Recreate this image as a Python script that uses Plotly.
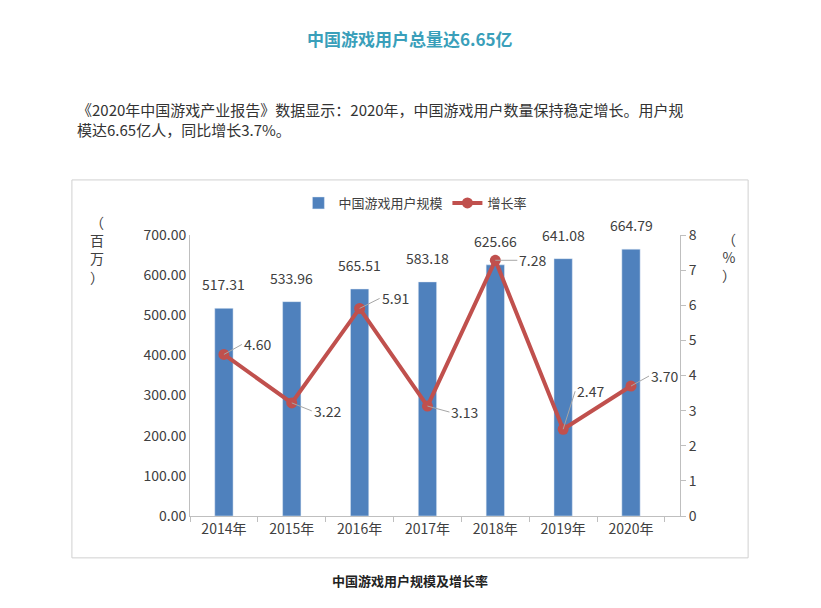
import plotly.graph_objects as go

years = ["2014年", "2015年", "2016年", "2017年", "2018年", "2019年", "2020年"]
users = [517.31, 533.96, 565.51, 583.18, 625.66, 641.08, 664.79]
growth = [4.60, 3.22, 5.91, 3.13, 7.28, 2.47, 3.70]
user_labels = ["517.31", "533.96", "565.51", "583.18", "625.66", "641.08", "664.79"]
growth_labels = ["4.60", "3.22", "5.91", "3.13", "7.28", "2.47", "3.70"]
left_ticks = [0, 100, 200, 300, 400, 500, 600, 700]
right_ticks = [0, 1, 2, 3, 4, 5, 6, 7, 8]

FONT = "Noto Sans CJK SC"
BLUE = "#4f81bd"
RED = "#c0504d"
TXT = "#404040"

fig = go.Figure()
fig.add_trace(go.Bar(
    x=years, y=users, name="中国游戏用户规模", marker_color=BLUE, width=0.27,
))
fig.add_trace(go.Scatter(
    x=years, y=growth, name="增长率", yaxis="y2", mode="lines+markers",
    line=dict(color=RED, width=4), marker=dict(color=RED, size=11),
))

# bar value labels
for yr, u, lab in zip(years, users, user_labels):
    fig.add_annotation(x=yr, y=u, xref="x", yref="y", text=lab, showarrow=False,
                       yanchor="bottom", yshift=12,
                       font=dict(size=14, color=TXT, family=FONT))

# rate labels with short leader lines
offsets = [(18, -10), (20, 8), (20, -10), (22, 6), (22, 0), (12, -38), (18, -10)]
for yr, g, lab, (ax, ay) in zip(years, growth, growth_labels, offsets):
    fig.add_annotation(
        x=yr, y=g, xref="x", yref="y2", text=lab, showarrow=True,
        arrowhead=0, arrowcolor="#a6a6a6", arrowwidth=1,
        ax=ax, ay=ay, xanchor="left",
        font=dict(size=14, color=TXT, family=FONT),
    )

# axis unit labels
fig.add_annotation(text="（<br>百<br>万<br>）", xref="paper", yref="paper",
                   x=-0.19, y=1.09, xanchor="center", yanchor="top", showarrow=False,
                   font=dict(size=14, color=TXT, family=FONT))
fig.add_annotation(text="（<br>%<br>）", xref="paper", yref="paper",
                   x=1.1, y=1.03, xanchor="center", yanchor="top", showarrow=False,
                   font=dict(size=14, color=TXT, family=FONT))

# page texts
fig.add_annotation(text="<b>中国游戏用户总量达6.65亿</b>", xref="paper", yref="paper",
                   x=0.449, y=1.70, xanchor="center", yanchor="middle", showarrow=False,
                   font=dict(size=17, color="#3a9fba", family=FONT))
fig.add_annotation(
    text="《2020年中国游戏产业报告》数据显示：2020年，中国游戏用户数量保持稳定增长。用户规<br>模达6.65亿人，同比增长3.7%。",
    xref="paper", yref="paper", x=-0.235, y=1.49, xanchor="left", yanchor="top",
    align="left", showarrow=False,
    font=dict(size=15, color="#333333", family=FONT))
fig.add_annotation(text="<b>中国游戏用户规模及增长率</b>", xref="paper", yref="paper",
                   x=0.449, y=-0.23, xanchor="center", yanchor="middle", showarrow=False,
                   font=dict(size=13, color="#222222", family=FONT))

# chart frame
fig.add_shape(type="rect", xref="paper", yref="paper", x0=-0.241, x1=1.139,
              y0=-0.149, y1=1.196, line=dict(color="#d0d0d0", width=1))

fig.update_layout(
    width=821, height=608,
    margin=dict(l=182, r=149, t=227, b=100),
    plot_bgcolor="white", paper_bgcolor="white",
    font=dict(family=FONT, size=14, color=TXT),
    showlegend=True,
    legend=dict(orientation="h", x=0.46, y=1.114, xanchor="center", yanchor="middle",
                font=dict(size=13, color=TXT, family=FONT)),
    xaxis=dict(showline=True, linecolor="#bfbfbf", ticks="outside", tickcolor="#bfbfbf",
               tickson="boundaries", ticklen=5, tickfont=dict(size=14)),
    yaxis=dict(range=[0, 700], tickvals=left_ticks, tickformat=".2f", showgrid=False,
               showline=True, linecolor="#bfbfbf", zeroline=False, tickfont=dict(size=14)),
    yaxis2=dict(range=[0, 8], tickvals=right_ticks, overlaying="y", side="right",
                showgrid=False, showline=True, linecolor="#bfbfbf", ticks="outside",
                tickcolor="#bfbfbf", zeroline=False, tickfont=dict(size=14)),
)

fig.write_html("out.html")
